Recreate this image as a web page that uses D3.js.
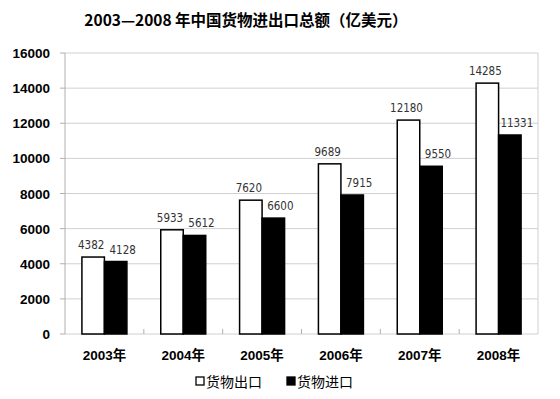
<!DOCTYPE html>
<html><head><meta charset="utf-8">
<script src="https://cdn.jsdelivr.net/npm/d3@7"></script>
<style>body{margin:0;background:#fff}</style>
</head><body>
<svg id="c" width="560" height="399"></svg>
<script>
const categories = ["2003年","2004年","2005年","2006年","2007年","2008年"];
const exportValues = [4382,5933,7620,9689,12180,14285];
const importValues = [4128,5612,6600,7915,9550,11331];
const yTicks = [0,2000,4000,6000,8000,10000,12000,14000,16000];
const seriesNames = ["货物出口","货物进口"];

const svg = d3.select("#c");
const L=65,R=538,T=53,B=334;
const x = d3.scaleBand().domain(categories).range([L,R]);
const y = d3.scaleLinear().domain([0,16000]).range([B,T]);
const sub = d3.scaleBand().domain([0,1]).range([0,45]);

svg.append("text").attr("x",246).attr("y",26).attr("text-anchor","middle")
  .attr("font-family","'Noto Sans CJK SC'").attr("font-weight","bold").attr("font-size",15.5)
  .text("2003—2008 年中国货物进出口总额（亿美元）");

// grid
svg.append("g").selectAll("line").data(yTicks).join("line")
  .attr("x1",L).attr("x2",R).attr("y1",d=>y(d)).attr("y2",d=>y(d))
  .attr("stroke","#d0d0d0").attr("stroke-width",1);
svg.append("line").attr("x1",L).attr("x2",L).attr("y1",T).attr("y2",B).attr("stroke","#b0b0b0");
svg.append("line").attr("x1",R).attr("x2",R).attr("y1",T).attr("y2",B).attr("stroke","#d0d0d0");
svg.append("g").selectAll("line").data(yTicks).join("line")
  .attr("x1",L-5).attr("x2",L).attr("y1",d=>y(d)).attr("y2",d=>y(d)).attr("stroke","#b0b0b0");
svg.append("g").selectAll("line").data(categories.slice(1)).join("line")
  .attr("x1",d=>x(d)).attr("x2",d=>x(d)).attr("y1",B-5).attr("y2",B).attr("stroke","#b0b0b0");

svg.append("g").selectAll("text").data(yTicks).join("text")
  .attr("x",50).attr("y",d=>y(d)+5).attr("text-anchor","end")
  .attr("font-family","'Liberation Sans',Arial").attr("font-weight","bold").attr("font-size",13.5)
  .text(d=>d);

const data = categories.map((c,i)=>({c,v:[exportValues[i],importValues[i]]}));
const g = svg.append("g");
const shift=[-2,7];
data.forEach(d=>{
  d.v.forEach((v,k)=>{
    const bx = x(d.c)+x.bandwidth()/2-22.5+sub(k);
    g.append("rect").attr("x",bx).attr("y",y(v)).attr("width",sub.bandwidth()).attr("height",B-y(v))
      .attr("fill",k===0?"#fff":"#000").attr("stroke","#000").attr("stroke-width",1.5);
    g.append("text").attr("x",bx+sub.bandwidth()/2+shift[k]).attr("y",y(v)-8).attr("text-anchor","middle")
      .attr("font-family","'DejaVu Sans Condensed','Liberation Sans'").attr("font-size",11.5).attr("fill","#333")
      .text(v);
  });
});

svg.append("g").selectAll("text").data(categories).join("text")
  .attr("x",d=>x(d)+x.bandwidth()/2).attr("y",360).attr("text-anchor","middle")
  .attr("font-family","'Liberation Sans','Noto Sans CJK SC'").attr("font-weight","bold").attr("font-size",13.5)
  .text(d=>d);

const lg = svg.append("g");
[[196,0],[287,1]].forEach(([lx,k])=>{
  lg.append("rect").attr("x",lx).attr("y",377).attr("width",8).attr("height",8)
    .attr("fill",k===0?"#fff":"#000").attr("stroke","#000").attr("stroke-width",1.3);
  lg.append("text").attr("x",lx+10).attr("y",387).attr("font-family","'Noto Sans CJK SC'")
    .attr("font-size",14).text(seriesNames[k]);
});
</script>
</body></html>
